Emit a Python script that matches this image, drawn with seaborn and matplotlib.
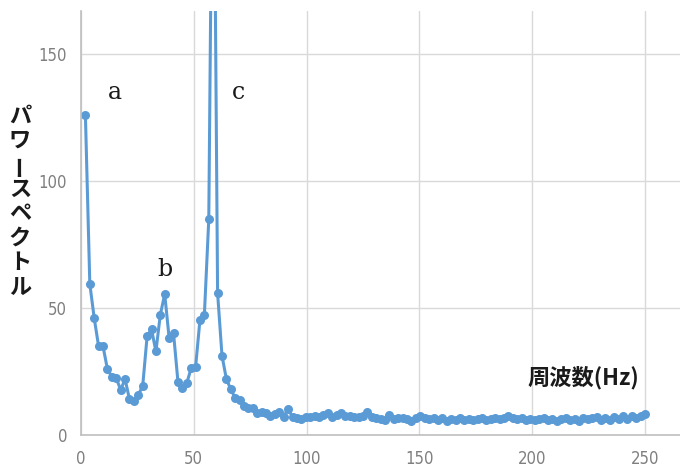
import numpy as np
import pandas as pd
import matplotlib
matplotlib.use("Agg")
import matplotlib.pyplot as plt
import seaborn as sns

# Power spectrum values, one per FFT bin (bin width 500/256 Hz), bins 1..128
power = [
    126.0, 59.5, 46.0, 34.9, 34.9, 25.9, 23.0, 22.4, 17.8, 22.0,
    14.1, 13.2, 15.8, 19.3, 38.8, 41.7, 32.9, 47.4, 55.5, 38.2,
    40.1, 21.0, 18.4, 20.4, 26.3, 26.7, 45.4, 47.4, 85.0, 280.0,
    55.8, 31.2, 22.0, 18.0, 14.5, 13.6, 11.4, 10.5, 10.5, 8.6,
    9.0, 8.6, 7.5, 8.2, 9.2, 7.2, 10.4, 7.0, 6.8, 6.2,
    7.2, 6.9, 7.6, 7.0, 7.8, 8.6, 7.2, 7.8, 8.8, 7.4,
    7.6, 7.2, 7.0, 7.4, 9.0, 7.0, 6.6, 6.4, 5.8, 7.8,
    6.2, 6.8, 6.6, 6.4, 5.6, 6.8, 7.6, 6.6, 6.2, 6.8,
    6.0, 6.6, 5.6, 6.4, 6.0, 6.6, 5.8, 6.2, 6.0, 6.4,
    6.6, 6.0, 6.4, 6.8, 6.2, 6.6, 7.4, 6.8, 6.4, 6.6,
    6.0, 6.4, 5.8, 6.2, 6.6, 6.0, 6.4, 5.6, 6.2, 6.8,
    5.8, 6.4, 5.6, 6.8, 6.2, 6.6, 7.0, 6.0, 6.8, 5.8,
    7.2, 6.4, 7.4, 6.2, 7.6, 6.8, 7.4, 8.4,
]
bin_width = 500 / 256
freqs = [(i + 1) * bin_width for i in range(len(power))]

x_ticks = [0, 50, 100, 150, 200, 250]
y_ticks = [0, 50, 100, 150]
peak_labels = ["a", "b", "c"]
peak_label_pos = [(15.1, 135.0), (37.2, 65.0), (69.6, 135.0)]
y_label_chars = list("パワースペクトル")
x_label = "周波数(Hz)"

df = pd.DataFrame({"freq": freqs, "power": power})

sns.set_theme(style="whitegrid")
plt.rcParams["font.family"] = ["Noto Sans CJK JP", "DejaVu Sans"]

fig = plt.figure(figsize=(6.8, 4.7), dpi=100)
ax = fig.add_axes([81 / 680, 1 - 435 / 470, 599 / 680, 424 / 470])

blue = "#5B9BD5"
sns.lineplot(data=df, x="freq", y="power", ax=ax, color=blue, linewidth=2.2,
             marker="o", markersize=6.5, markeredgewidth=0, markeredgecolor=blue,
             clip_on=True)

ax.set_xlim(0, 265.5)
ax.set_ylim(0, 167.0)
ax.set_xticks(x_ticks)
ax.set_yticks(y_ticks)
ax.set_xlabel("")
ax.set_ylabel("")

ax.grid(True, color="#D9D9D9", linewidth=1.0)
ax.set_facecolor("white")
for side in ["top", "right"]:
    ax.spines[side].set_visible(False)
for side in ["left", "bottom"]:
    ax.spines[side].set_visible(True)
    ax.spines[side].set_color("#BFBFBF")
    ax.spines[side].set_linewidth(1.2)

ax.tick_params(axis="both", length=0, colors="#7f7f7f", labelsize=12)
ax.tick_params(axis="x", pad=11)
ax.tick_params(axis="y", pad=10)
for lab in ax.get_xticklabels() + ax.get_yticklabels():
    lab.set_family("DejaVu Sans")
    lab.set_stretch("condensed")
    lab.set_color("#7f7f7f")

for lab, (px, py) in zip(peak_labels, peak_label_pos):
    ax.text(px, py, lab, family="DejaVu Serif", fontsize=17, color="#1a1a1a",
            ha="center", va="center")

ax.text(222.5, 22.4, x_label, fontsize=16, fontweight="bold", color="#1a1a1a",
        ha="center", va="center", family=["Noto Sans CJK JP", "DejaVu Sans"])

# vertical (tategaki) y-axis label
y0 = 1 - 116 / 470
step = 24.5 / 470
for i, ch in enumerate(y_label_chars):
    rot = 90 if ch == "ー" else 0
    fig.text(20 / 680, y0 - i * step, ch, fontsize=16, fontweight="bold",
             color="#1a1a1a", ha="center", va="center", rotation=rot,
             family=["Noto Sans CJK JP", "DejaVu Sans"])

fig.savefig("out.png", dpi=100)
